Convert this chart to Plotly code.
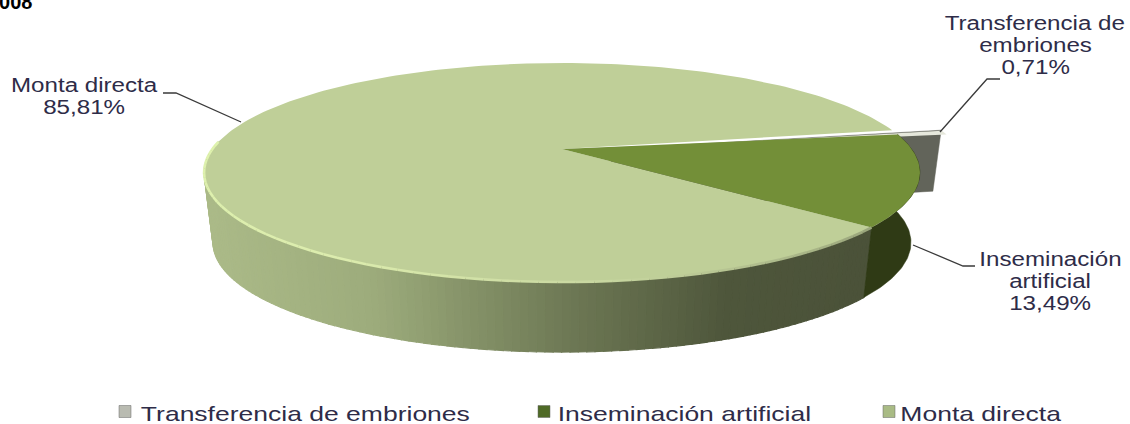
import math
import plotly.graph_objects as go

categories = ["Transferencia de embriones", "Inseminación artificial", "Monta directa"]
label_lines = [["Transferencia de", "embriones"], ["Inseminación", "artificial"], ["Monta directa"]]
values = [0.71, 13.49, 85.81]
top_colors = ["#e6e8dc", "#738f38", "#bfcf98"]
side_colors = ["#62645a", "#2f3a15", "#6b7553"]
swatch_colors = ["#b9bbb1", "#4f6a26", "#a9bb85"]
start_angle = -10.8
explode_dx = 49

X0, Y0, A, B, K = 562.0, 149.0, 349.6, 104.5, 0.2146
FONT = "Liberation Sans"
TXT = "#2e2c48"


def top(theta, dx=0.0):
    u, v = math.cos(math.radians(theta)), math.sin(math.radians(theta))
    w = 1 - K * v
    return X0 + dx + A * u / w, Y0 + B * v / w


def base(p, dx=0.0, drop=70.0):
    x, y = p
    return X0 + dx + (x - dx - X0) * 0.975, y + drop


def arc(a0, a1, dx=0.0, n=90):
    return [top(a0 + (a1 - a0) * i / n, dx) for i in range(n + 1)]


def hexmix(stops, t):
    t = max(0.0, min(1.0, t))
    for (t0, c0), (t1, c1) in zip(stops, stops[1:]):
        if t <= t1:
            f = (t - t0) / (t1 - t0)
            rgb = [round(int(c0[i:i + 2], 16) * (1 - f) + int(c1[i:i + 2], 16) * f) for i in (1, 3, 5)]
            return "rgb(%d,%d,%d)" % tuple(rgb)
    return stops[-1][1]


def poly(fig, pts, color, line=0.0, name=None):
    fig.add_trace(go.Scatter(
        x=[p[0] for p in pts] + [pts[0][0]], y=[p[1] for p in pts] + [pts[0][1]],
        mode="lines", fill="toself", fillcolor=color,
        line=dict(color=color, width=line), hoverinfo="skip", showlegend=False, name=name))


total = sum(values)
spans = [v / total * 360 for v in values]
t0, t1 = start_angle, start_angle + spans[0]
i0, i1 = t1, t1 + spans[1]
m0, m1 = i1, i1 + spans[2]
apex = (X0, Y0)

fig = go.Figure()

# Transferencia de embriones: exploded slice, cut face sits behind everything else
rim = top(t0, explode_dx)
ap = (X0 + explode_dx, Y0)
poly(fig, [ap, rim, base(rim, explode_dx, 61), base(ap, explode_dx, 61)], side_colors[0], line=0.5)

# Monta directa: shaded outer wall, visible part only
wall_stops = [(0.0, "#4b5239"), (0.2, "#4e563b"), (0.45, "#6e7955"), (0.75, "#9dac7c"), (1.0, "#abba88")]
steps = 130
a_start, a_end = m0, 184.0
for s in range(steps):
    a = a_start + (a_end - a_start) * s / steps
    b = a_start + (a_end - a_start) * (s + 1) / steps
    edge = arc(a, b, n=2)
    xm = edge[1][0]
    poly(fig, edge + [base(p) for p in reversed(edge)],
         hexmix(wall_stops, (860 - xm) / (860 - 205)), line=1.2)

# Monta directa: top face
poly(fig, [apex] + arc(m0, m1, n=240), top_colors[2], name=categories[2])

# Transferencia de embriones: top face
poly(fig, [ap] + arc(t0, t1, explode_dx, n=8), top_colors[0], name=categories[0])

# Inseminación artificial: wall and top face
edge = arc(i0, i1, n=60)
poly(fig, edge + [base(p) for p in reversed(edge)], side_colors[1], line=0.5)
poly(fig, [apex] + arc(i0, i1, n=60), top_colors[1], name=categories[1])

# light rim on the Monta directa top face
rim_stops = [(0.0, "#9aa67c"), (0.3, "#c8d7a0"), (0.55, "#dcecae"), (1.0, "#dff3ae")]
rn = 60
for s in range(rn):
    a = m0 + (184 - m0) * s / rn
    b = m0 + (184 - m0) * (s + 1) / rn
    seg = arc(a, b, n=2)
    fig.add_trace(go.Scatter(x=[p[0] for p in seg], y=[p[1] for p in seg], mode="lines",
                             line=dict(color=hexmix(rim_stops, s / rn), width=2.6),
                             hoverinfo="skip", showlegend=False))

# legend swatches
sw_x = [125, 544, 889]
text_cx = [305, 684, 980.5]
for c, x, name in zip(swatch_colors, sw_x, categories):
    fig.add_trace(go.Scatter(x=[x], y=[411.5], mode="markers", name=name, showlegend=False, hoverinfo="skip",
                             marker=dict(symbol="square", size=12, color=c, line=dict(color="#666", width=0.5))))

anns = []
for name, x in zip(categories, text_cx):
    anns.append(dict(x=x, y=413, text=name, xanchor="center", yanchor="middle", showarrow=False,
                     font=dict(family=FONT, size=21, color=TXT)))

fmt = [f"{v:.2f}".replace(".", ",") + "%" for v in values]
label_pos = [(1035, 23, 22), (1050, 259, 22), (84, 85, 22)]
for lines, pct, (x, y, step) in zip(label_lines, fmt, label_pos):
    for i, t in enumerate(lines + [pct]):
        anns.append(dict(x=x, y=y + i * step, text=t, xanchor="center", yanchor="middle", showarrow=False,
                         font=dict(family=FONT, size=19.5, color=TXT)))

anns.append(dict(x=34, y=14.5, text="2008", xanchor="right", yanchor="bottom", showarrow=False, borderpad=0,
                 font=dict(family="Liberation Sans", size=20, color="#000000", weight="bold")))

leaders = [
    [(940, 132), (987, 79), (1000, 79)],
    [(913, 245), (963, 266), (975, 266)],
    [(241, 122), (176, 93), (163, 93)],
]
shapes = [dict(type="path", xref="x", yref="y", line=dict(color="#3a3a3a", width=1.3),
               path="M " + " L ".join(f"{x},{y}" for x, y in seg)) for seg in leaders]

fig.update_layout(
    width=1130, height=424, margin=dict(l=0, r=0, t=0, b=0), autosize=False,
    paper_bgcolor="white", plot_bgcolor="white", showlegend=False,
    xaxis=dict(range=[0, 1130], visible=False, fixedrange=True),
    yaxis=dict(range=[424, 0], visible=False, fixedrange=True),
    annotations=anns, shapes=shapes,
)

# The reference's text is stretched horizontally; the page margin is removed so pixels line up.
post = """
document.body.style.margin = '0';
document.querySelectorAll('.annotation-text').forEach(function (t) {
  var fs = parseFloat(t.style.fontSize);
  if (t.textContent === '2008') { return; }
  var k = fs >= 21 ? 1.262 : 1.238;
  t.setAttribute('textLength', t.getComputedTextLength() * k);
  t.setAttribute('lengthAdjust', 'spacingAndGlyphs');
});
"""
fig.write_html("out.html", config={"displayModeBar": False}, post_script=post)
